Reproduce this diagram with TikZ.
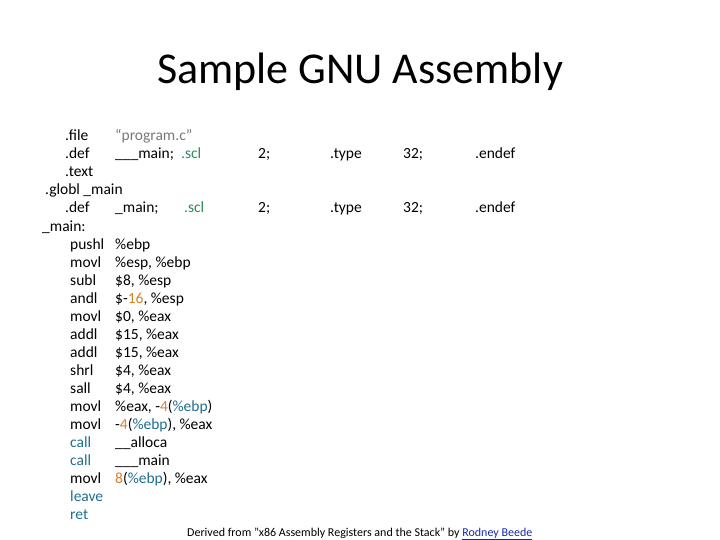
\documentclass[tikz,border=0pt]{standalone}
\usepackage{fontspec}
\setmainfont{Carlito}
\definecolor{kw}{RGB}{31,110,140}
\definecolor{num}{RGB}{214,128,40}
\definecolor{scl}{RGB}{40,140,90}
\definecolor{str}{RGB}{120,120,120}
\definecolor{lnk}{RGB}{20,40,180}
\tikzset{asm/.style={anchor=base west,inner sep=0pt,font=\fontsize{15.5}{18}\selectfont},
  title/.style={anchor=base,inner sep=0pt,font=\fontsize{44}{48}\selectfont}}
\begin{document}
\begin{tikzpicture}[x=1pt,y=-1pt]
\useasboundingbox (0,0) rectangle (720,540);
\node[title] (title) at (360,84) {Sample GNU Assembly};
% header lines
\node[asm] (file) at (65,141) {.file};
\node[asm,text=str] (prog) at (115,141) {“program.c"};
\node[asm] (def1) at (65,159) {.def};
\node[asm] (def1n) at (115,159) {\_\_\_main;};
\node[asm,text=scl] (scl1) at (181,159) {.scl};
\node[asm] (text) at (65,177) {.text};
\node[asm] (globl) at (45,195) {.globl \_main};
\node[asm] (def2) at (65,213) {.def};
\node[asm] (def2n) at (115,213) {\_main;};
\node[asm,text=scl] (scl2) at (184,213) {.scl};
\foreach \y/\n in {159/a,213/b}{
  \node[asm] (two\n) at (258,\y) {2;};
  \node[asm] (type\n) at (330,\y) {.type};
  \node[asm] (tt\n) at (403,\y) {32;};
  \node[asm] (endef\n) at (475,\y) {.endef};
}
\node[asm] (mainlbl) at (42,231) {\_main:};
% instructions
\foreach \i/\op/\arg in {0/pushl/\%ebp,
  1/movl/{\%esp, \%ebp},
  2/subl/{\$8, \%esp},
  3/andl/{\$-{\color{num}16}, \%esp},
  4/movl/{\$0, \%eax},
  5/addl/{\$15, \%eax},
  6/addl/{\$15, \%eax},
  7/shrl/{\$4, \%eax},
  8/sall/{\$4, \%eax},
  9/movl/{\%eax, -{\color{num}4}(\textcolor{kw}{\%ebp})},
  10/movl/{-{\color{num}4}(\textcolor{kw}{\%ebp}), \%eax},
  11/\textcolor{kw}{call}/\_\_alloca,
  12/\textcolor{kw}{call}/\_\_\_main,
  13/movl/{{\color{num}8}(\textcolor{kw}{\%ebp}), \%eax},
  14/\textcolor{kw}{leave}/{},
  15/\textcolor{kw}{ret}/{}}{
  \node[asm] (op\i) at (70,249+18*\i) {\op};
  \node[asm] (arg\i) at (115,249+18*\i) {\arg};
}
\node[anchor=base west,inner sep=0pt,font=\fontsize{12}{14}\selectfont] (credit) at (187,536)
  {Derived from "x86 Assembly Registers and the Stack" by \textcolor{lnk}{\underline{Rodney Beede}}};
\end{tikzpicture}
\end{document}
